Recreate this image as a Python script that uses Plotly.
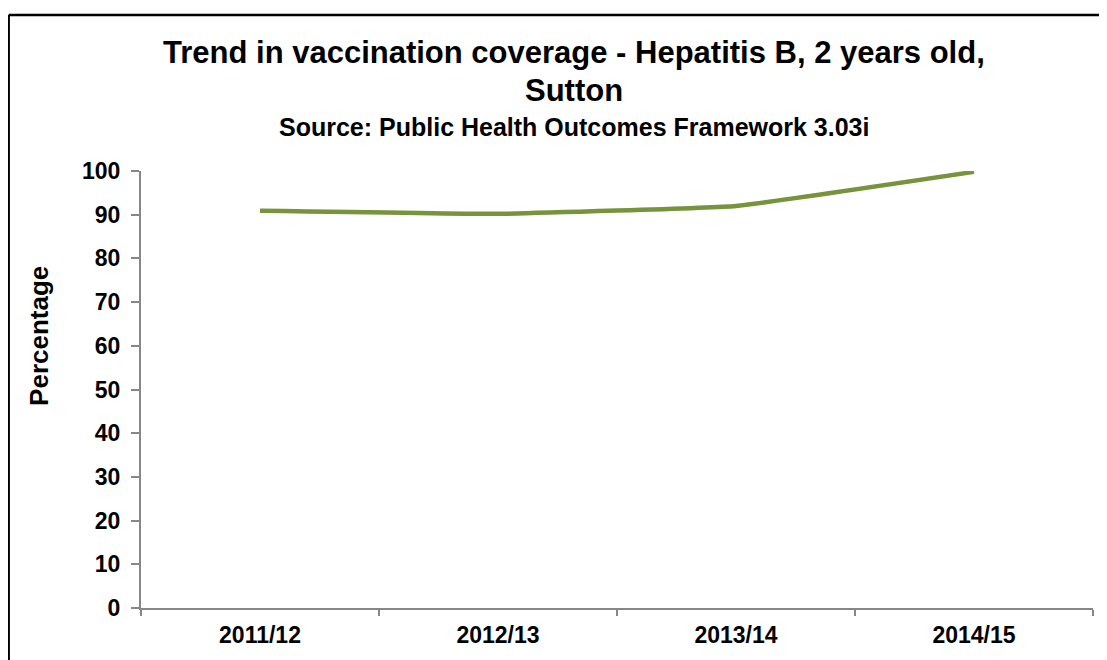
import plotly.graph_objects as go

# Dados
years = ["2011/12", "2012/13", "2013/14", "2014/15"]
coverage = [90.9, 90.2, 92.0, 99.8]

y_ticks = [0, 10, 20, 30, 40, 50, 60, 70, 80, 90, 100]

FONT = "Liberation Sans, Arial, sans-serif"
AXIS_GREY = "#878787"

fig = go.Figure()
fig.add_trace(go.Scatter(
    x=years, y=coverage,
    mode="lines",
    line=dict(color="#77933C", width=4.5, shape="spline", smoothing=0.3),
    hoverinfo="skip",
))

# a página tem 8px de margem no body: o tamanho compensa isso
fig.update_layout(
    width=1099, height=652,
    margin=dict(l=133, r=14, t=163, b=49),
    paper_bgcolor="white", plot_bgcolor="white",
    showlegend=False,
    font=dict(family=FONT, color="black"),
)

fig.update_xaxes(
    type="category",
    range=[-0.5, 3.5],
    tickson="boundaries",
    ticks="outside", ticklen=6, tickwidth=1.5, tickcolor=AXIS_GREY,
    showline=True, linecolor=AXIS_GREY, linewidth=2,
    showgrid=False, zeroline=False,
    ticklabelstandoff=5,
    tickfont=dict(size=23, family=FONT, color="black", weight="bold"),
)
fig.update_yaxes(
    range=[0, 100],
    tickvals=y_ticks,
    ticks="outside", ticklen=8, tickwidth=1.5, tickcolor=AXIS_GREY,
    showline=True, linecolor=AXIS_GREY, linewidth=2,
    showgrid=False, zeroline=False,
    ticklabelstandoff=6,
    tickfont=dict(size=23, family=FONT, color="black", weight="bold"),
)

# Título (duas linhas) e subtítulo
fig.add_annotation(
    text="<b>Trend in vaccination coverage - Hepatitis B, 2 years old,</b>",
    xref="paper", yref="paper", x=0.455, y=1.2705,
    xanchor="center", yanchor="middle", showarrow=False,
    font=dict(size=31, family=FONT, color="black"),
)
fig.add_annotation(
    text="<b>Sutton</b>",
    xref="paper", yref="paper", x=0.455, y=1.184,
    xanchor="center", yanchor="middle", showarrow=False,
    font=dict(size=31, family=FONT, color="black"),
)
fig.add_annotation(
    text="<b>Source: Public Health Outcomes Framework 3.03i</b>",
    xref="paper", yref="paper", x=0.455, y=1.100,
    xanchor="center", yanchor="middle", showarrow=False,
    font=dict(size=25, family=FONT, color="black"),
)

# Título do eixo Y
fig.add_annotation(
    text="<b>Percentage</b>",
    xref="paper", yref="paper", x=-0.107, y=0.623,
    xanchor="center", yanchor="middle", showarrow=False, textangle=-90,
    font=dict(size=26, family=FONT, color="black"),
)

# Moldura do gráfico: só os lados esquerdo e superior aparecem na imagem
frame = dict(color="black", width=2.5)
fig.add_shape(type="line", xref="paper", yref="paper",
              x0=-0.139, x1=-0.139, y0=-0.6, y1=1.357, line=frame, layer="below")
fig.add_shape(type="line", xref="paper", yref="paper",
              x0=-0.139, x1=1.6, y0=1.357, y1=1.357, line=frame, layer="below")

fig.write_html("out.html")
